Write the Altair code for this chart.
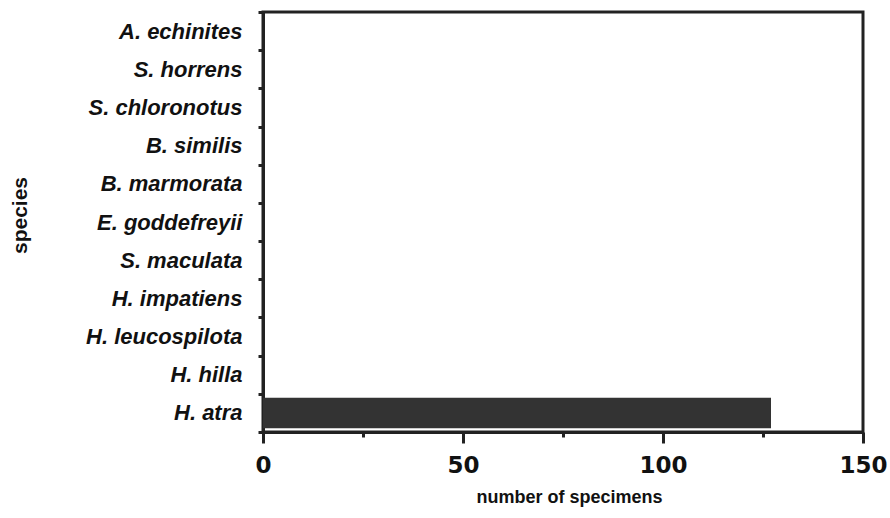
import altair as alt
import pandas as pd

species = ["A. echinites", "S. horrens", "S. chloronotus", "B. similis", "B. marmorata",
           "E. goddefreyii", "S. maculata", "H. impatiens", "H. leucospilota", "H. hilla", "H. atra"]
counts = [0, 0, 0, 0, 0, 0, 0, 0, 0, 0, 127]
x_ticks = [0, 25, 50, 75, 100, 125, 150]

df = pd.DataFrame({"species": species, "count": counts})

chart = alt.Chart(df).mark_bar(color="#333333", height=alt.RelativeBandSize(0.8)).encode(
    x=alt.X("count:Q",
            scale=alt.Scale(domain=[0, 150], nice=False, zero=True),
            axis=alt.Axis(values=x_ticks, title="number of specimens", grid=False,
                          domain=True, domainColor="#222222", domainWidth=3,
                          labelExpr="datum.value % 50 === 0 ? datum.label : ''",
                          tickSize={"condition": {"test": "datum.value % 50 === 0", "value": 11}, "value": 5},
                          tickWidth=3, tickColor="#222222",
                          labelFont="DejaVu Sans", labelFontWeight="bold", labelFontSize=23,
                          labelColor="#111111", labelPadding=11, labelFlush=False,
                          titleFont="Liberation Sans", titleFontWeight="bold", titleFontSize=18,
                          titleColor="#111111", titleX=306, titleY=65, titleBaseline="middle")),
    y=alt.Y("species:N", sort=species,
            scale=alt.Scale(paddingInner=0, paddingOuter=0),
            axis=alt.Axis(title="species", grid=False, domain=True, domainColor="#222222",
                          domainWidth=3, tickBand="extent",
                          tickSize=5, tickWidth=3, tickColor="#222222",
                          labelFont="Liberation Sans", labelFontStyle="italic",
                          labelFontWeight="bold", labelFontSize=22,
                          labelColor="#111111", labelPadding=16,
                          titleFont="Liberation Sans", titleFontWeight="bold", titleFontSize=21,
                          titleColor="#111111", titleAngle=270, titleX=-243, titleY=203,
                          titleAlign="center", titleBaseline="middle")),
).properties(
    width=600, height=420,
    autosize=alt.AutoSizeParams(type="none"),
    padding={"left": 263, "top": 12, "right": 27, "bottom": 86},
).configure(background="white").configure_view(stroke="#222222", strokeWidth=3)

chart.save("out.html", embed_options={"renderer": "svg", "actions": False})
